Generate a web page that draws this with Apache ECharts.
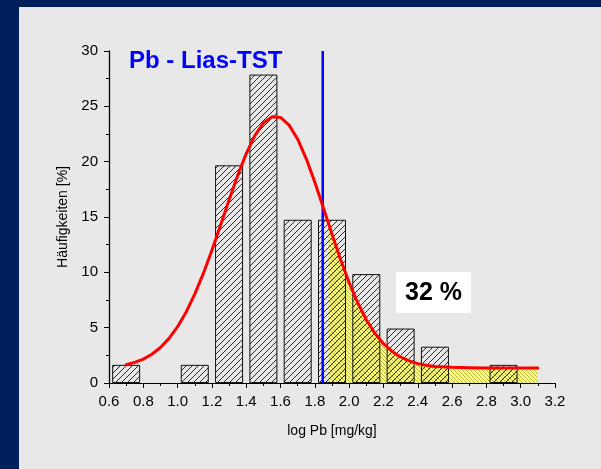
<!DOCTYPE html>
<html>
<head>
<meta charset="utf-8">
<script src="https://cdn.jsdelivr.net/npm/echarts@6/dist/echarts.min.js"></script>
<style>
  html, body { margin: 0; padding: 0; background: #e8e8e8; }
  #chart { width: 601px; height: 469px; }
</style>
</head>
<body>
<div id="chart"></div>
<script>
// Histogram of log Pb (class centres, percent of samples)
const binCenters = [0.7, 1.1, 1.3, 1.5, 1.7, 1.9, 2.1, 2.3, 2.5, 2.9];
const binPercent = [1.64, 1.64, 19.67, 27.87, 14.75, 14.75, 9.84, 4.92, 3.28, 1.64];

// Fitted distribution curve (x = log Pb, y = percent)
const curveX = [0.70, 0.75, 0.80, 0.85, 0.90, 0.95, 1.00, 1.05, 1.10, 1.15, 1.20, 1.25,
                1.30, 1.35, 1.40, 1.45, 1.50, 1.55, 1.60, 1.65, 1.70, 1.75, 1.80,
                1.85, 1.88, 1.90, 1.95, 2.00, 2.05, 2.10, 2.15, 2.20, 2.25, 2.30, 2.35, 2.40,
                2.45, 2.50, 2.60, 2.70, 2.80, 2.90, 3.00, 3.10];
const curveY = [1.65, 1.86, 2.16, 2.60, 3.21, 4.03, 5.09, 6.42, 8.03, 9.90, 12.0, 14.25,
                16.54, 18.75, 20.73, 22.36, 23.49, 24.05, 24.0, 23.3, 22.03, 20.26, 18.14,
                15.81, 14.4, 13.44, 11.16, 9.07, 7.25, 5.72, 4.49, 3.55, 2.85, 2.35, 2.0, 1.75,
                1.6, 1.5, 1.42, 1.38, 1.36, 1.35, 1.35, 1.35];

// Threshold and the share of samples above it
const thresholdX = 1.846;
const shadeFromX = 1.88;
const shareLabel = '32 %';

// Axis ranges and tick labels
const xMin = 0.6, xMax = 3.2, xStep = 0.2;
const yMin = 0, yMax = 30, yStep = 5;

function hatchPattern(size, bg, stroke, forward) {
  const c = document.createElement('canvas');
  c.width = size; c.height = size;
  const g = c.getContext('2d');
  if (bg) { g.fillStyle = bg; g.fillRect(0, 0, size, size); }
  g.strokeStyle = stroke;
  g.lineWidth = 1;
  g.beginPath();
  if (forward) {
    g.moveTo(0, size); g.lineTo(size, 0);
    g.moveTo(-size / 2, size / 2); g.lineTo(size / 2, -size / 2);
    g.moveTo(size / 2, size * 1.5); g.lineTo(size * 1.5, size / 2);
  } else {
    g.moveTo(0, 0); g.lineTo(size, size);
    g.moveTo(-size / 2, size / 2); g.lineTo(size / 2, size * 1.5);
    g.moveTo(size / 2, -size / 2); g.lineTo(size * 1.5, size / 2);
  }
  g.stroke();
  return c;
}

const barHatch = hatchPattern(6, null, '#2a2a2a', true);
const areaHatch = hatchPattern(4, '#ffff55', '#b4b46e', false);

const barData = binCenters.map((x, i) => [x, binPercent[i]]);
const curveData = curveX.map((x, i) => [x, curveY[i]]);
const shadeData = curveData.filter(p => p[0] >= shadeFromX);

const chart = echarts.init(document.getElementById('chart'), null, { renderer: 'canvas' });

const tickFont = { color: '#000', fontFamily: 'Liberation Sans, Arial, sans-serif', fontSize: 15 };

chart.setOption({
  backgroundColor: '#e8e8e8',
  animation: false,
  grid: { left: 109, right: 46, top: 51, bottom: 86, containLabel: false },
  xAxis: {
    type: 'value', min: xMin, max: xMax, interval: xStep,
    name: 'log Pb [mg/kg]', nameLocation: 'middle', nameGap: 41,
    nameTextStyle: { color: '#000', fontFamily: 'Liberation Sans, Arial, sans-serif', fontSize: 14 },
    axisLine: { show: true, lineStyle: { color: '#000', width: 1 } },
    axisTick: { show: true, inside: false, length: 5, lineStyle: { color: '#000' } },
    minorTick: { show: true, splitNumber: 2, length: 3, lineStyle: { color: '#000' } },
    splitLine: { show: false },
    axisLabel: Object.assign({ margin: 11, formatter: v => v.toFixed(1) }, tickFont)
  },
  yAxis: {
    type: 'value', min: yMin, max: yMax, interval: yStep,
    name: 'Häufigkeiten [%]', nameLocation: 'middle', nameGap: 37, nameRotate: 90,
    nameTextStyle: { color: '#000', fontFamily: 'Liberation Sans, Arial, sans-serif', fontSize: 14 },
    axisLine: { show: true, lineStyle: { color: '#000', width: 1.3 } },
    axisTick: { show: true, inside: false, length: 5, lineStyle: { color: '#000' } },
    minorTick: { show: true, splitNumber: 2, length: 3, lineStyle: { color: '#000' } },
    splitLine: { show: false },
    axisLabel: Object.assign({ margin: 11 }, tickFont)
  },
  series: [
    {
      type: 'line', name: 'shade', data: shadeData, z: 1,
      showSymbol: false, symbol: 'none', smooth: false,
      lineStyle: { width: 0 },
      areaStyle: { color: { image: areaHatch, repeat: 'repeat' }, opacity: 1 }
    },
    {
      type: 'bar', name: 'freq', data: barData, barWidth: 28, z: 2,
      itemStyle: { color: { image: barHatch, repeat: 'repeat' }, borderColor: '#111', borderWidth: 1 }
    },
    {
      type: 'line', name: 'threshold', data: [[thresholdX, yMin], [thresholdX, yMax]], z: 3,
      showSymbol: false, symbol: 'none',
      lineStyle: { color: '#0000ff', width: 2.5 }
    },
    {
      type: 'line', name: 'fit', data: curveData, z: 4,
      showSymbol: false, symbol: 'none', smooth: false,
      lineStyle: { color: '#ff0000', width: 3, join: 'round', cap: 'round' }
    }
  ],
  graphic: [
    { type: 'rect', left: 0, top: 0, shape: { width: 19, height: 469 }, style: { fill: '#00205b' }, z: 100 },
    { type: 'rect', left: 0, top: 0, shape: { width: 601, height: 7 }, style: { fill: '#00205b' }, z: 100 },
    {
      type: 'text', x: 129, y: 61, z: 100,
      style: { text: 'Pb - Lias-TST', fill: '#0000ff', font: 'bold 24px "Liberation Sans", Arial, sans-serif', textVerticalAlign: 'middle' }
    },
    {
      type: 'group', x: 396, y: 272, z: 100,
      children: [
        { type: 'rect', shape: { x: 0, y: 0, width: 75, height: 41 }, style: { fill: '#ffffff' } },
        { type: 'text', x: 37.5, y: 21, style: { text: shareLabel, fill: '#000', font: 'bold 25px "Liberation Sans", Arial, sans-serif', textAlign: 'center', textVerticalAlign: 'middle' } }
      ]
    }
  ]
});
</script>
</body>
</html>
